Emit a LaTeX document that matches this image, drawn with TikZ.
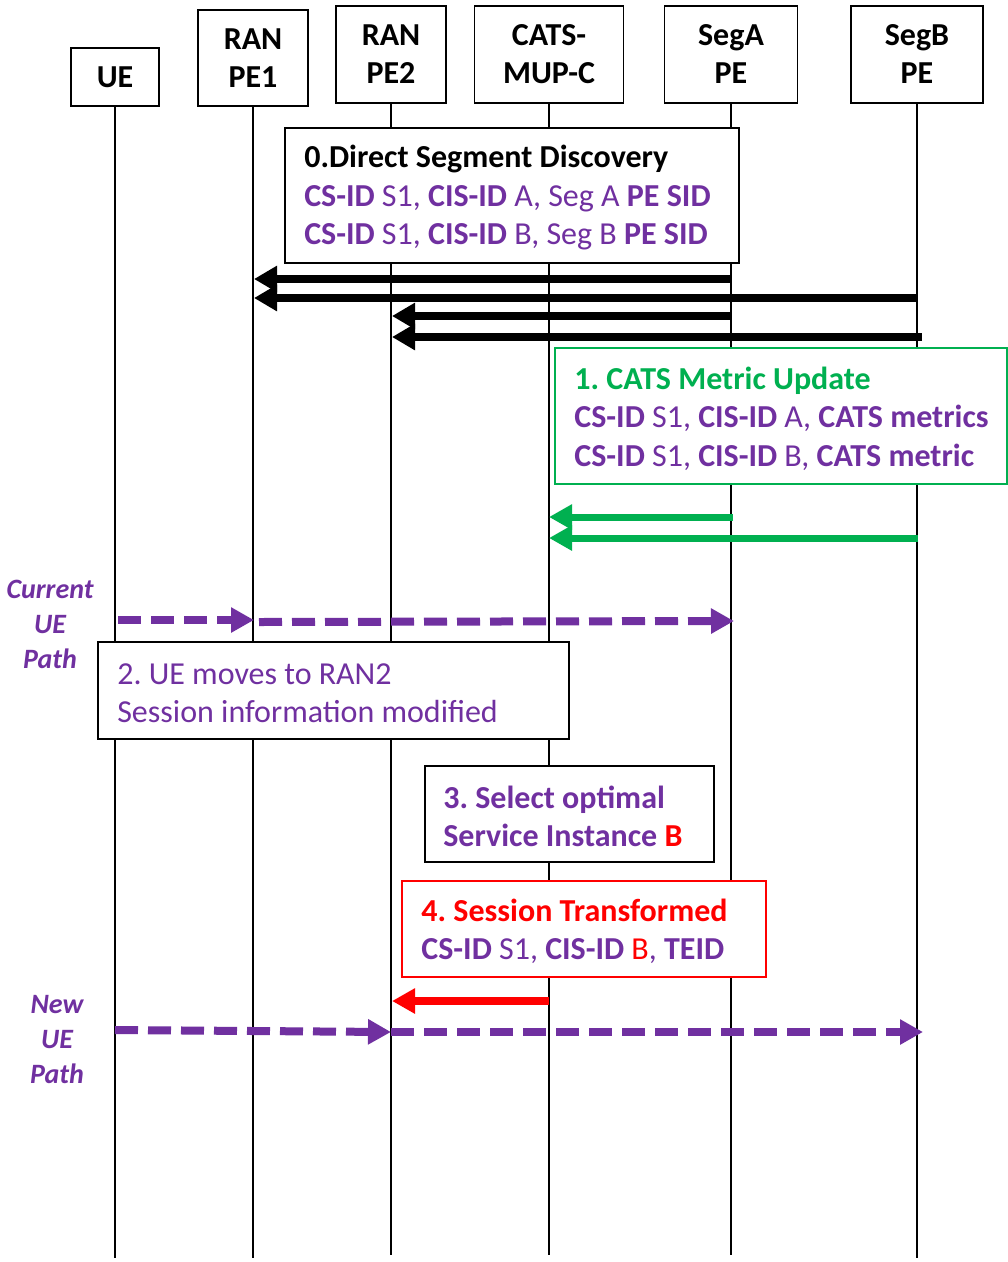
\documentclass[tikz,border=0pt]{standalone}
\usepackage{fontspec}
\setmainfont{Carlito}
\usetikzlibrary{arrows.meta}
\definecolor{cpurple}{HTML}{7030A0}
\definecolor{cgreen}{HTML}{00B050}
\definecolor{cred}{HTML}{FF0000}
\frenchspacing
\begin{document}
\begin{tikzpicture}[x=1pt,y=-1pt,
  actor/.style={draw=black, line width=1.6pt, fill=white, align=center, inner sep=0pt,
    font=\fontsize{32}{38}\selectfont\bfseries},
  life/.style={draw=black, line width=1.1pt},
  notebox/.style={draw=black, line width=1.8pt, fill=white, inner sep=0pt},
  notetext/.style={align=left, inner sep=0pt, anchor=west, yshift=-2.5pt, font=\fontsize{32}{38.5}\selectfont\frenchspacing},
  pathlabel/.style={align=center, inner sep=0pt, text=cpurple, font=\fontsize{28}{35}\selectfont\bfseries\itshape},
  blkarrow/.style={draw=black, line width=8pt, -{Triangle[length=23pt,width=25pt]}},
  grnarrow/.style={draw=cgreen, line width=7pt, -{Triangle[length=23pt,width=24pt]}},
  redarrow/.style={draw=cred, line width=8pt, -{Triangle[length=23pt,width=24pt]}},
  purarrow/.style={draw=cpurple, line width=8pt, dash pattern=on 23pt off 10pt, -{Triangle[length=23pt,width=24pt]}}
]
\useasboundingbox[fill=white] (0,0) rectangle (1008,1262);

% lifeline end coordinates
\coordinate (ueE) at (115,1258);
\coordinate (pe1E) at (253,1258);
\coordinate (pe2E) at (391,1255);
\coordinate (catsE) at (549,1255);
\coordinate (segaE) at (731,1255);
\coordinate (segbE) at (917,1258);

% actors
\node[actor, minimum width=88pt, minimum height=58pt] (ue) at (115,77) {UE};
\node[actor, minimum width=110pt, minimum height=96pt] (pe1) at (253,58) {RAN\\PE1};
\node[actor, minimum width=110pt, minimum height=97pt] (pe2) at (391,54.5) {RAN\\PE2};
\node[actor, minimum width=149pt, minimum height=97pt] (cats) at (549,54.5) {CATS-\\MUP-C};
\node[actor, minimum width=133pt, minimum height=97pt] (sega) at (731,54.5) {SegA\\PE};
\node[actor, minimum width=132pt, minimum height=97pt] (segb) at (917,54.5) {SegB\\PE};

% lifelines
\draw[life] (ue.south) -- (ueE);
\draw[life] (pe1.south) -- (pe1E);
\draw[life] (pe2.south) -- (pe2E);
\draw[life] (cats.south) -- (catsE);
\draw[life] (sega.south) -- (segaE);
\draw[life] (segb.south) -- (segbE);

% step 0
\node[notebox, minimum width=454pt, minimum height=135pt] (b0) at (512,195.5) {};
\node[notetext] (t0) at ([xshift=20pt]b0.west) {\textbf{0.Direct Segment Discovery}\\
  \color{cpurple}\textbf{CS-ID} S1, \textbf{CIS-ID} A, Seg A \textbf{PE SID}\\
  \color{cpurple}\textbf{CS-ID} S1, \textbf{CIS-ID} B, Seg B \textbf{PE SID}};

\coordinate (s1) at (731,279); \coordinate (e1) at (254,279);
\coordinate (s2) at (916,298); \coordinate (e2) at (254,298);
\coordinate (s3) at (731,316); \coordinate (e3) at (392,316);
\coordinate (s4) at (922,337); \coordinate (e4) at (392,337);
\draw[blkarrow] (s1) -- (e1);
\draw[blkarrow] (s2) -- (e2);
\draw[blkarrow] (s3) -- (e3);
\draw[blkarrow] (s4) -- (e4);

% step 1
\node[notebox, draw=cgreen, line width=1.5pt, minimum width=452pt, minimum height=136pt] (b1) at (781,416) {};
\node[notetext] (t1) at ([xshift=20pt]b1.west) {\color{cgreen}\textbf{1. CATS Metric Update}\\
  \color{cpurple}\textbf{CS-ID} S1, \textbf{CIS-ID} A, \textbf{CATS metrics}\\
  \color{cpurple}\textbf{CS-ID} S1, \textbf{CIS-ID} B, \textbf{CATS metric}};

\coordinate (g1s) at (733,517); \coordinate (g1e) at (549,517);
\coordinate (g2s) at (918,538); \coordinate (g2e) at (549,538);
\draw[grnarrow] (g1s) -- (g1e);
\draw[grnarrow] (g2s) -- (g2e);

% current UE path
\node[pathlabel] (curlab) at (50,624) {Current\\UE\\Path};
\coordinate (c1s) at (118,620); \coordinate (c1e) at (254,620);
\coordinate (c2s) at (259,622); \coordinate (c2e) at (734,621);
\draw[purarrow] (c1s) -- (c1e);
\draw[purarrow] (c2s) -- (c2e);

% step 2
\node[notebox, minimum width=471pt, minimum height=97pt] (b2) at (333.5,690.5) {};
\node[notetext, text=cpurple] (t2) at ([xshift=20pt]b2.west) {2. UE moves to RAN2\\Session information modified};

% step 3
\node[notebox, minimum width=289pt, minimum height=96pt] (b3) at (569.5,814) {};
\node[notetext, text=cpurple] (t3) at ([xshift=19pt]b3.west) {\textbf{3. Select optimal}\\
  \textbf{Service Instance {\color{cred}B}}};

% step 4
\node[notebox, draw=cred, line width=1.5pt, minimum width=364pt, minimum height=96pt] (b4) at (584,929) {};
\node[notetext] (t4) at ([xshift=20pt]b4.west) {\color{cred}\textbf{4. Session Transformed}\\
  \color{cpurple}\textbf{CS-ID} S1, \textbf{CIS-ID} {\color{cred}B}, \textbf{TEID}};

\coordinate (r1s) at (549,1001); \coordinate (r1e) at (392,1001);
\draw[redarrow] (r1s) -- (r1e);

% new UE path
\node[pathlabel] (newlab) at (57,1040) {New\\UE\\Path};
\coordinate (n1s) at (115,1030); \coordinate (n1e) at (391,1032);
\coordinate (n2s) at (391,1032); \coordinate (n2e) at (923,1032);
\draw[purarrow] (n1s) -- (n1e);
\draw[purarrow] (n2s) -- (n2e);
\end{tikzpicture}
\end{document}
